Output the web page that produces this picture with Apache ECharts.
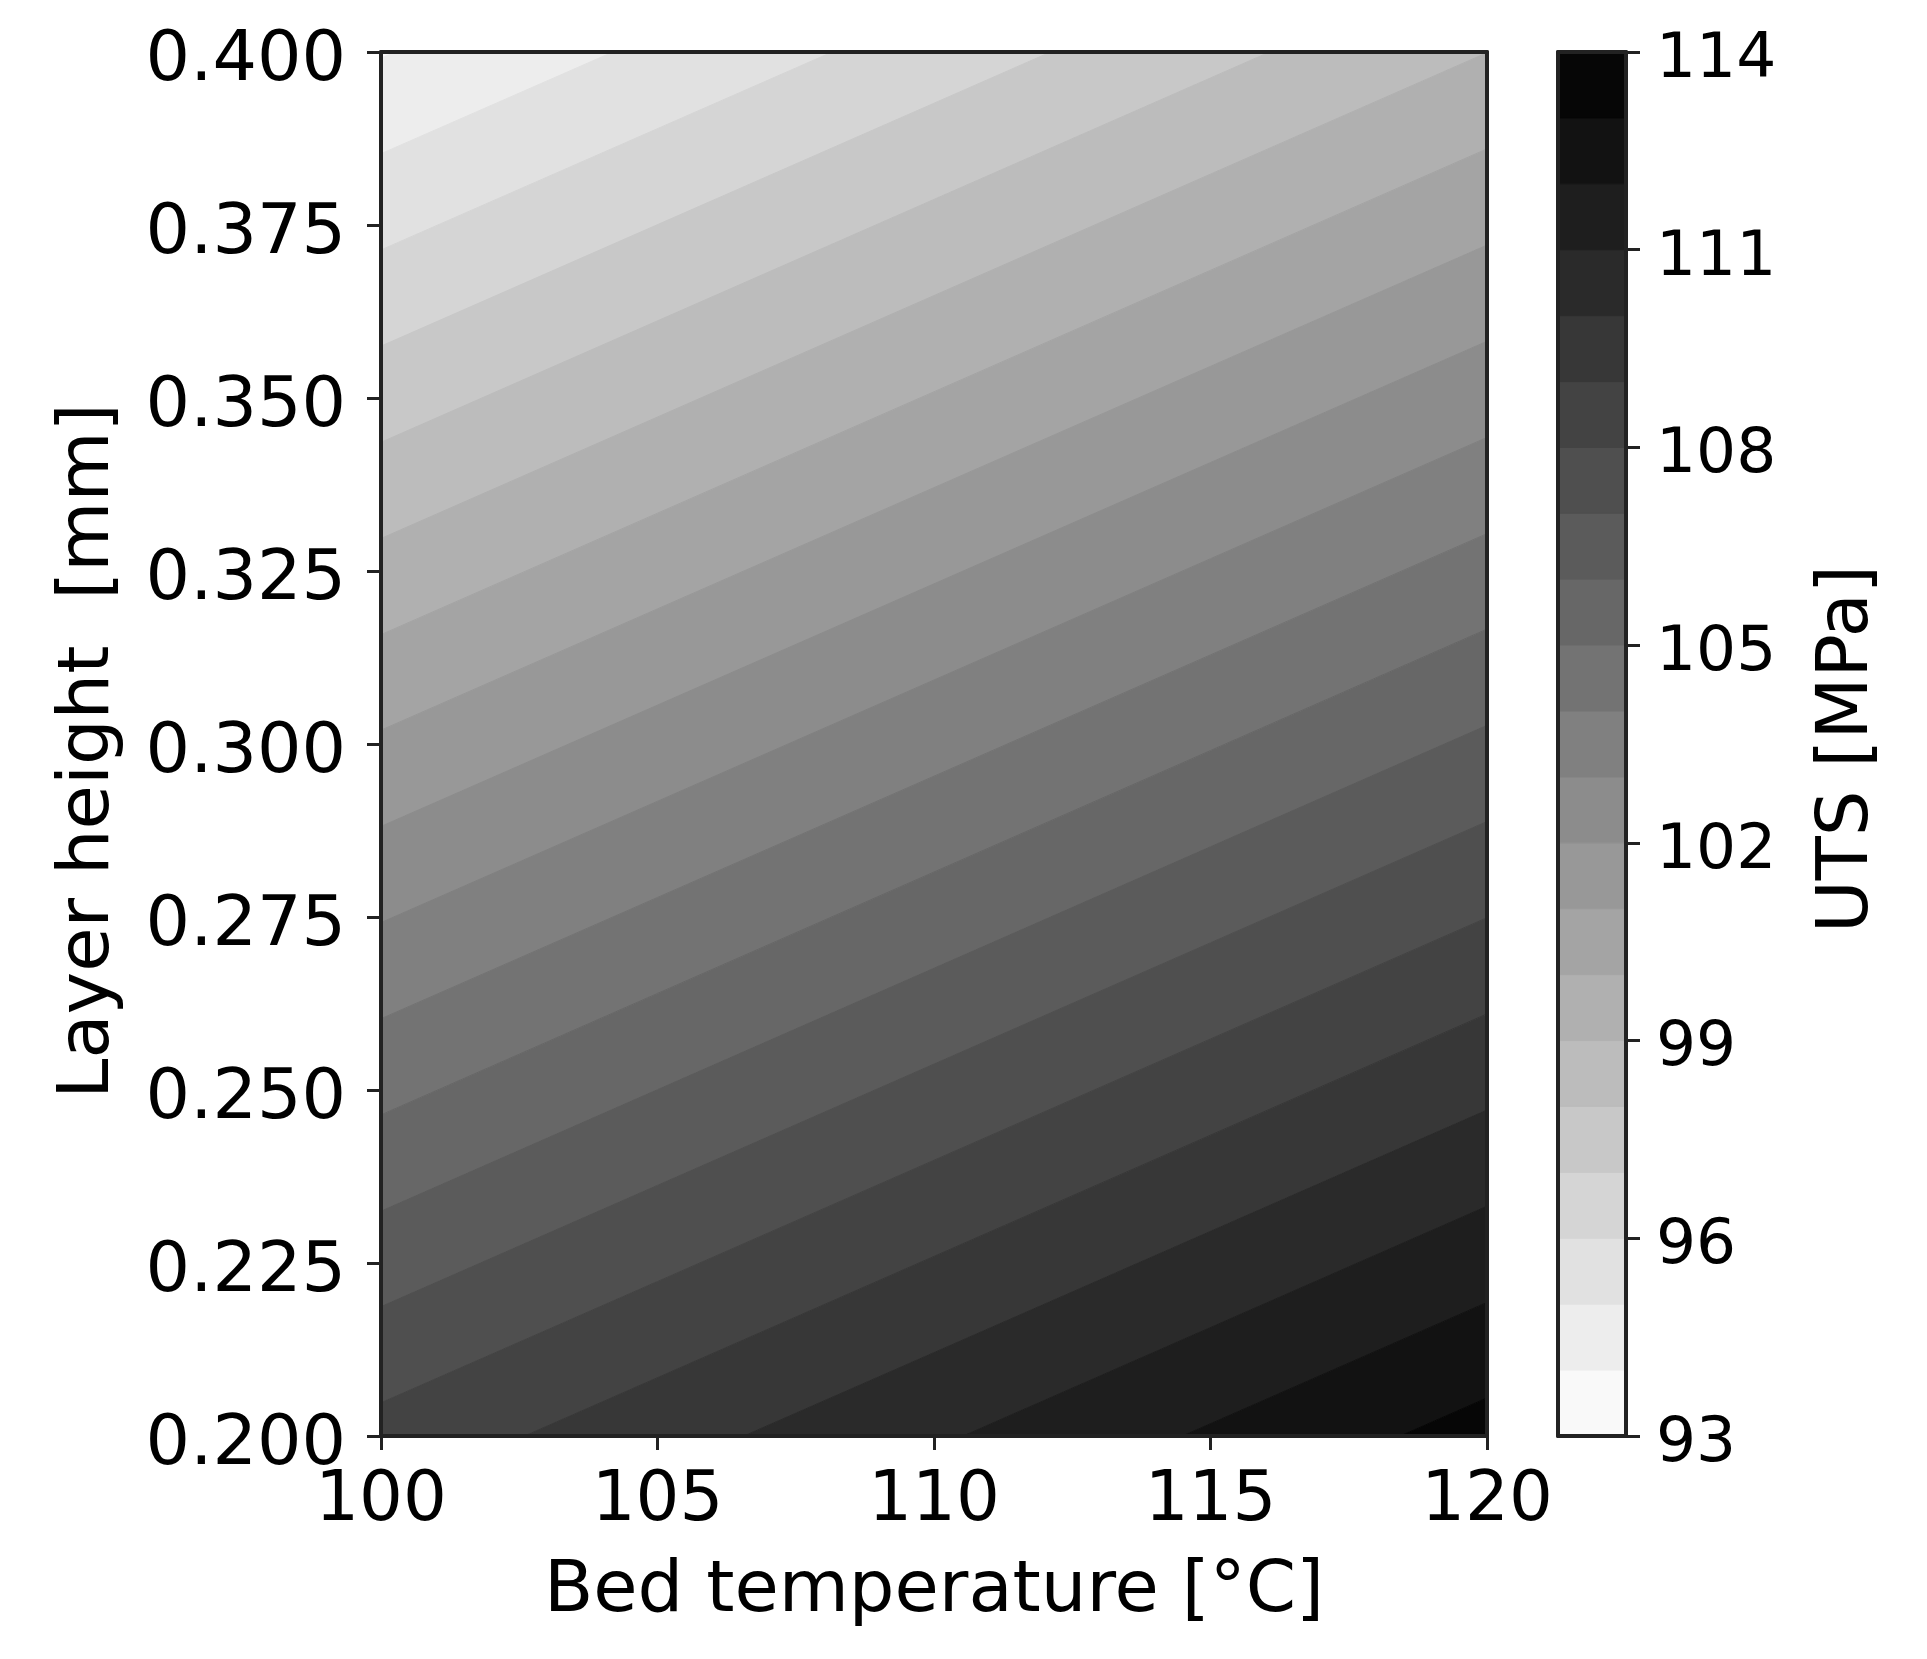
<!DOCTYPE html>
<html>
<head>
<meta charset="utf-8">
<title>UTS contour</title>
<script src="https://cdn.jsdelivr.net/npm/echarts@6/dist/echarts.min.js"></script>
<style>
  html, body { margin: 0; padding: 0; background: #ffffff; }
  #main { width: 1927px; height: 1659px; }
</style>
</head>
<body>
<div id="main"></div>
<script>
// contour levels of UTS [MPa] (colorbar bands are 1 MPa wide)
var levels = [93, 94, 95, 96, 97, 98, 99, 100, 101, 102, 103, 104, 105, 106, 107, 108, 109, 110, 111, 112, 113, 114]
// layer height where each contour line meets the left edge (100 °C) and the right edge (120 °C)
// (lines leaving the plot through the top / bottom are extended to the edge)
var heightAt100 = [0.4130, 0.3991, 0.3853, 0.3714, 0.3575, 0.3436, 0.3297, 0.3158, 0.3020, 0.2881, 0.2742,
  0.2603, 0.2464, 0.2325, 0.2187, 0.2048, 0.1909, 0.1770, 0.1631, 0.1492, 0.1353, 0.1214]
var heightAt120 = [0.4832, 0.4693, 0.4554, 0.4415, 0.4277, 0.4138, 0.3999, 0.3860, 0.3721, 0.3582, 0.3443,
  0.3304, 0.3166, 0.3027, 0.2888, 0.2749, 0.2610, 0.2471, 0.2332, 0.2193, 0.2055, 0.1916]
// axis ticks
var tempTicks = [100, 105, 110, 115, 120]
var heightTicks = [0.200, 0.225, 0.250, 0.275, 0.300, 0.325, 0.350, 0.375, 0.400]
var utsTicks = [93, 96, 99, 102, 105, 108, 111, 114]

var FONT = 'DejaVu Sans'
var LINE = '#222222'

// gray_r colormap sampled at the middle of each band
function grey(i) {
  var g = Math.round(255 * (1 - (i + 0.5) / (levels.length - 1)))
  return 'rgb(' + g + ',' + g + ',' + g + ')'
}

var bands = []
for (var i = 0; i < levels.length - 1; i++) {
  bands.push([i])
}

// axis that only draws a spine
function spine(gridIndex, min, max, position) {
  return {
    type: 'value',
    gridIndex: gridIndex,
    position: position,
    min: min,
    max: max,
    z: 10,
    axisLine: { show: true, onZero: false, lineStyle: { color: LINE, width: 4 } },
    axisTick: { show: false },
    axisLabel: { show: false },
    splitLine: { show: false }
  }
}

var chart = echarts.init(document.getElementById('main'))
chart.setOption({
  backgroundColor: '#ffffff',
  animation: false,
  grid: [
    { left: 381, top: 52, width: 1106, height: 1384 },
    { left: 1558, top: 52, width: 68, height: 1384 }
  ],
  xAxis: [
    {
      type: 'value',
      gridIndex: 0,
      position: 'bottom',
      min: tempTicks[0],
      max: tempTicks[tempTicks.length - 1],
      interval: 5,
      z: 10,
      name: 'Bed temperature [°C]',
      nameLocation: 'middle',
      nameGap: 120,
      nameTextStyle: { fontFamily: FONT, fontSize: 72, color: '#000' },
      axisLine: { show: true, onZero: false, lineStyle: { color: LINE, width: 4 } },
      axisTick: { show: true, length: 14, lineStyle: { color: LINE, width: 3 } },
      axisLabel: { fontFamily: FONT, fontSize: 69, color: '#000', margin: 32 },
      splitLine: { show: false }
    },
    spine(0, tempTicks[0], tempTicks[tempTicks.length - 1], 'top'),
    spine(1, 0, 1, 'bottom'),
    spine(1, 0, 1, 'top')
  ],
  yAxis: [
    {
      type: 'value',
      gridIndex: 0,
      position: 'left',
      min: heightTicks[0],
      max: heightTicks[heightTicks.length - 1],
      interval: 0.025,
      z: 10,
      name: 'Layer height  [mm]',
      nameLocation: 'middle',
      nameGap: 256,
      nameTextStyle: { fontFamily: FONT, fontSize: 72, color: '#000', padding: [0, 14, 0, 0] },
      axisLine: { show: true, onZero: false, lineStyle: { color: LINE, width: 4 } },
      axisTick: { show: true, length: 14, lineStyle: { color: LINE, width: 3 } },
      axisLabel: {
        margin: 35,
        // labels sit a little below their ticks, like matplotlib's
        formatter: function(v) { return '{t|' + v.toFixed(3) + '}' },
        rich: { t: { fontFamily: FONT, fontSize: 70, color: '#000', lineHeight: 89, verticalAlign: 'bottom' } }
      },
      splitLine: { show: false }
    },
    spine(0, heightTicks[0], heightTicks[heightTicks.length - 1], 'right'),
    {
      type: 'value',
      gridIndex: 1,
      position: 'right',
      min: utsTicks[0],
      max: utsTicks[utsTicks.length - 1],
      interval: 3,
      z: 10,
      name: 'UTS [MPa]',
      nameLocation: 'middle',
      nameGap: 186,
      nameRotate: 90,
      nameTextStyle: { fontFamily: FONT, fontSize: 72, color: '#000', padding: [0, 10, 0, 0] },
      axisLine: { show: true, onZero: false, lineStyle: { color: LINE, width: 4 } },
      axisTick: { show: true, length: 14, lineStyle: { color: LINE, width: 3 } },
      axisLabel: {
        margin: 30,
        formatter: function(v) { return '{t|' + v + '}' },
        rich: { t: { fontFamily: FONT, fontSize: 63, color: '#000', lineHeight: 80, verticalAlign: 'bottom' } }
      },
      splitLine: { show: false }
    },
    spine(1, levels[0], levels[levels.length - 1], 'left')
  ],
  series: [
    {
      // filled contour bands
      type: 'custom',
      xAxisIndex: 0,
      yAxisIndex: 0,
      clip: true,
      silent: true,
      data: bands,
      renderItem: function(params, api) {
        var i = api.value(0)
        var pts = [
          api.coord([tempTicks[0], heightAt100[i]]),
          api.coord([tempTicks[tempTicks.length - 1], heightAt120[i]]),
          api.coord([tempTicks[tempTicks.length - 1], heightAt120[i + 1]]),
          api.coord([tempTicks[0], heightAt100[i + 1]])
        ]
        return {
          type: 'polygon',
          shape: { points: pts },
          style: { fill: grey(i), stroke: grey(i), lineWidth: 1 }
        }
      }
    },
    {
      // colorbar
      type: 'custom',
      xAxisIndex: 2,
      yAxisIndex: 2,
      silent: true,
      data: bands,
      renderItem: function(params, api) {
        var i = api.value(0)
        var a = api.coord([0, levels[i]])
        var b = api.coord([1, levels[i + 1]])
        return {
          type: 'rect',
          shape: { x: a[0], y: b[1], width: b[0] - a[0], height: a[1] - b[1] },
          style: { fill: grey(i), stroke: grey(i), lineWidth: 1 }
        }
      }
    }
  ]
})
</script>
</body>
</html>
